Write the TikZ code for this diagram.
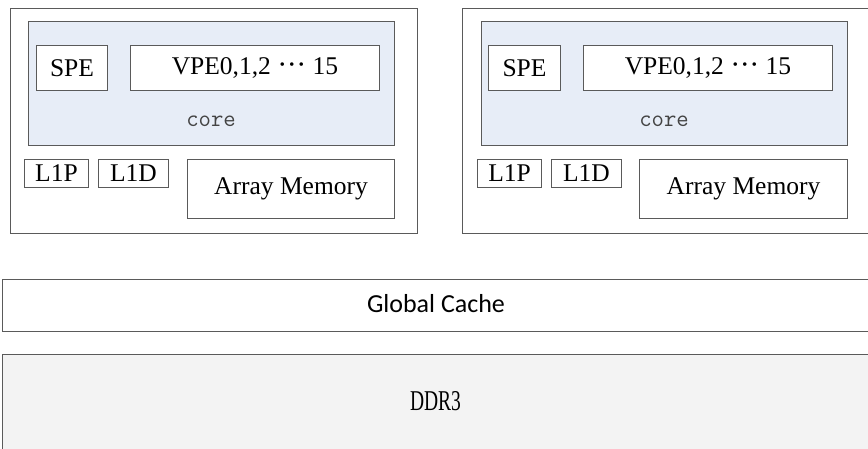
\documentclass[tikz,border=0pt]{standalone}
\usepackage{fontspec}
\setmainfont{Liberation Serif}
\newfontfamily\cachefont{Carlito}
\usetikzlibrary{positioning}

\definecolor{edgegray}{HTML}{5A5A5A}
\definecolor{corefill}{HTML}{E7EDF7}
\definecolor{ddrfill}{HTML}{F3F3F3}
\definecolor{coretext}{HTML}{444444}

\tikzset{
  blk/.style={draw=edgegray, line width=1pt, fill=white, inner sep=0pt, anchor=north west,
              font=\fontsize{25.5}{30}\selectfont},
  outerbox/.style={blk, fill=white},
  corebox/.style={blk, fill=corefill},
  corelabel/.style={anchor=base, inner sep=0pt, text=coretext,
                    font=\ttfamily\fontsize{24}{28}\selectfont},
  band/.style={blk},
}

% box from its top-left corner with width and height (px)
\newcommand{\pbox}[6]{%
  \node[#1, minimum width=#4pt, minimum height=#5pt] (#2) at (#3) {#6};}
% centred dots between lane numbers
\newcommand{\lanedots}{\textperiodcentered\kern-0.5pt\textperiodcentered\kern-0.5pt\textperiodcentered}

\begin{document}
\begin{tikzpicture}[x=1pt, y=-1pt]
  \useasboundingbox (0,0) rectangle (868,448);
  \clip (0,0) rectangle (868,448);

  % ---- left processing cluster ----
  \pbox{outerbox}{outL}{9.5,7.5}{407.5}{225}{}
  \pbox{corebox}{coreL}{28,21}{366}{124}{}
  \pbox{blk}{speL}{36,45}{71}{45}{SPE}
  \pbox{blk}{vpeL}{130,45}{249}{45}{VPE0,1,2 {\fontsize{30}{30}\selectfont\lanedots} 15}
  \node[corelabel] (coretxtL) at (211,126) {core};
  \pbox{blk}{l1pL}{24,159}{64}{28}{L1P}
  \pbox{blk}{l1dL}{98,159}{70}{28}{L1D}
  \pbox{blk}{amL}{187,159}{207}{59}{Array Memory}

  % ---- right processing cluster ----
  \pbox{outerbox}{outR}{462,7.5}{420}{225}{}
  \pbox{corebox}{coreR}{481,21}{366}{124}{}
  \pbox{blk}{speR}{488,45}{72}{45}{SPE}
  \pbox{blk}{vpeR}{583,45}{249}{45}{VPE0,1,2 {\fontsize{30}{30}\selectfont\lanedots} 15}
  \node[corelabel] (coretxtR) at (664,126) {core};
  \pbox{blk}{l1pR}{477,159}{64}{28}{L1P}
  \pbox{blk}{l1dR}{551,159}{70}{28}{L1D}
  \pbox{blk}{amR}{639,159}{208}{59}{Array Memory}

  % ---- shared cache and DRAM ----
  \node[band, minimum width=880pt, minimum height=52pt] (gcache) at (2,279) {};
  \node[font=\cachefont\fontsize{26}{30}\selectfont, inner sep=0pt] (gcachetxt) at (436,304) {Global Cache};
  \node[band, fill=ddrfill, minimum width=880pt, minimum height=110pt] (ddr) at (2,354) {};
  \node[inner sep=0pt, font=\fontsize{28.7}{32}\selectfont] (ddrtxt) at (435.5,401.5)
    {\scalebox{0.68}[1]{DDR3}};
\end{tikzpicture}
\end{document}
